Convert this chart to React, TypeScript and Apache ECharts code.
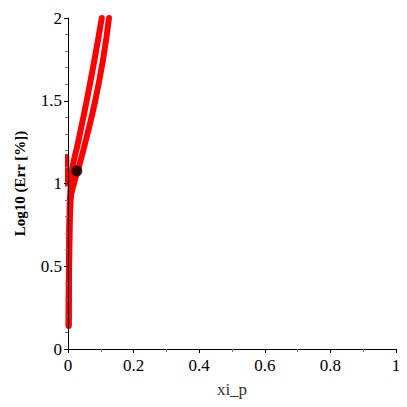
import React, { useEffect, useRef } from "react";
import * as echarts from "echarts";

// Left curve (xi_p, log10 err)
const curveA: [number, number][] = [
  [0.002, 0.14], [0.003, 0.5], [0.005, 0.85], [0.009, 1.0], [0.014, 1.1],
  [0.031, 1.25], [0.057, 1.5], [0.081, 1.75], [0.103, 2.0],
];
// Right curve
const curveB: [number, number][] = [
  [0.002, 0.14], [0.004, 0.6], [0.008, 0.9], [0.018, 1.0], [0.033, 1.1],
  [0.053, 1.25], [0.083, 1.5], [0.107, 1.75], [0.125, 2.0],
];
// Short segment near the axis
const curveC: [number, number][] = [
  [-0.005, 1.0], [-0.005, 1.16],
];
// Marked point
const markPoint: [number, number][] = [[0.027, 1.075]];

const xTicks = { min: 0, max: 1, interval: 0.2 };
const yTicks = { min: 0, max: 2, interval: 0.5 };

export default function App() {
  const ref = useRef<HTMLDivElement>(null);
  useEffect(() => {
    if (!ref.current) return;
    const chart = echarts.init(ref.current, undefined, { renderer: "svg" });
    const font = "'Liberation Serif', serif";
    const lineSeries = (data: [number, number][], smooth: boolean) => ({
      type: "line",
      data,
      smooth,
      showSymbol: false,
      clip: false,
      lineStyle: { color: "#ff0000", width: 6, cap: "round", join: "round" },
      z: 2,
    });
    chart.setOption({
      animation: false,
      textStyle: { fontFamily: font },
      grid: { left: 60, right: 3, top: 10, bottom: 50, outerBoundsMode: "none", containLabel: false },
      xAxis: {
        type: "value",
        min: xTicks.min,
        max: xTicks.max,
        interval: xTicks.interval,
        name: "xi_p",
        nameLocation: "middle",
        nameGap: 32,
        nameTextStyle: { fontFamily: font, fontSize: 17, color: "#333" },
        axisLine: { onZero: false, lineStyle: { color: "#000", width: 1 } },
        axisTick: { show: true, length: 4, lineStyle: { color: "#000" } },
        minorTick: { show: true, splitNumber: 2, length: 3, lineStyle: { color: "#777" } },
        splitLine: { show: false },
        axisLabel: { fontFamily: font, fontSize: 17, color: "#000", margin: 8 },
        z: 10,
      },
      yAxis: {
        type: "value",
        min: yTicks.min,
        max: yTicks.max,
        interval: yTicks.interval,
        name: "Log10 (Err [%])",
        nameLocation: "middle",
        nameRotate: 90,
        nameGap: 41,
        nameTextStyle: { fontFamily: font, fontSize: 15, fontWeight: "bold", color: "#000" },
        axisLine: { onZero: false, lineStyle: { color: "#000", width: 1 } },
        axisTick: { show: true, length: 4, lineStyle: { color: "#000" } },
        minorTick: { show: true, splitNumber: 5, length: 3, lineStyle: { color: "#777" } },
        splitLine: { show: false },
        axisLabel: {
          fontFamily: font,
          fontSize: 17,
          color: "#000",
          margin: 6,
          formatter: (v: number) => String(v),
        },
        z: 10,
      },
      series: [
        lineSeries(curveA, true),
        lineSeries(curveB, true),
        lineSeries(curveC, false),
        {
          type: "scatter",
          data: markPoint,
          symbolSize: 11,
          itemStyle: { color: "#000" },
          z: 5,
        },
      ],
    });
    return () => chart.dispose();
  }, []);
  return <div ref={ref} style={{ width: 391, height: 391 }} />;
}
